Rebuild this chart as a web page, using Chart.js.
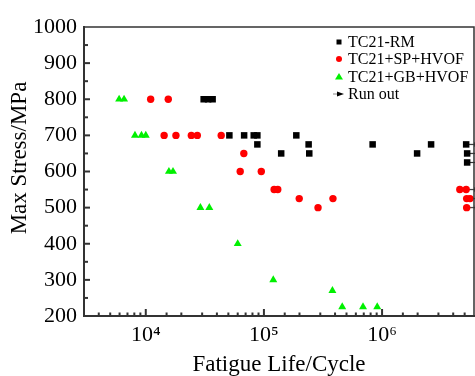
<!DOCTYPE html>
<html>
<head>
<meta charset="utf-8">
<script src="https://cdn.jsdelivr.net/npm/chart.js@4.4.1/dist/chart.umd.min.js"></script>
<style>
  html, body { margin: 0; padding: 0; background: #fff; }
</style>
</head>
<body>
<canvas id="fatigueChart" width="475" height="376"></canvas>
<script>
// fatigue life (cycles) vs max stress (MPa)
const rmLife = [30900, 33700, 36800, 51000, 68000, 82000, 88000, 188000, 88000, 239000, 832000, 2600000, 5150000, 140000, 242000, 1980000, 5250000, 5250000];
const rmStress = [800, 800, 800, 700, 700, 700, 700, 700, 675, 675, 675, 675, 675, 650, 650, 650, 650, 625];

const spLife = [11000, 15500, 14300, 18000, 24300, 27300, 43500, 67600, 63000, 95000, 122000, 131000, 199000, 384000, 287000, 4550000, 5150000, 5200000, 5550000, 5200000];
const spStress = [800, 800, 700, 700, 700, 700, 700, 650, 600, 600, 550, 550, 525, 525, 500, 550, 550, 525, 525, 500];

const gbLife = [5950, 6550, 8100, 9200, 10000, 15700, 17000, 29000, 34500, 60000, 120000, 380000, 460000, 690000, 910000];
const gbStress = [800, 800, 700, 700, 700, 600, 600, 500, 500, 400, 300, 270, 225, 225, 225];

// specimens that did not fail
const runOutLife = [5150000, 5250000, 5250000, 5150000, 5550000, 5200000];
const runOutStress = [675, 650, 625, 550, 525, 500];

const seriesNames = ['TC21-RM', 'TC21+SP+HVOF', 'TC21+GB+HVOF', 'Run out'];
const yTicks = [200, 300, 400, 500, 600, 700, 800, 900, 1000];

const axisColor = '#333333';
const serif = "'Liberation Serif', 'Times New Roman', serif";
const sup = { '4': '\u2074', '5': '\u2075', '6': '\u2076' };

function toPoints(xs, ys) {
    return xs.map((v, i) => ({ x: v, y: ys[i] }));
}

function isPow10(v) {
    const l = Math.log10(v);
    return Math.abs(l - Math.round(l)) < 1e-9;
}

// arrow marker, drawn to the right of the point
function makeArrow() {
    const c = document.createElement('canvas');
    c.width = 26;
    c.height = 7;
    const g = c.getContext('2d');
    g.strokeStyle = axisColor;
    g.fillStyle = axisColor;
    g.lineWidth = 1.2;
    g.beginPath();
    g.moveTo(15, 3.5);
    g.lineTo(22, 3.5);
    g.stroke();
    g.beginPath();
    g.moveTo(21, 1);
    g.lineTo(26, 3.5);
    g.lineTo(21, 6);
    g.fill();
    return c;
}

const frameAndTicks = {
    id: 'frameAndTicks',
    afterDraw(chart) {
        const { ctx, chartArea: a, scales: { x, y } } = chart;
        ctx.save();
        ctx.strokeStyle = axisColor;
        ctx.lineWidth = 1.5;
        ctx.beginPath();
        ctx.moveTo(a.left, a.top);
        ctx.lineTo(a.right, a.top);
        ctx.lineTo(a.right, a.bottom);
        ctx.stroke();

        // inward ticks
        ctx.lineWidth = 2;
        x.ticks.forEach(t => {
            const px = x.getPixelForValue(t.value);
            if (px < a.left + 3 || px > a.right - 3) return;
            ctx.beginPath();
            ctx.moveTo(px, a.bottom);
            ctx.lineTo(px, a.bottom - (isPow10(t.value) ? 7 : 3.5));
            ctx.stroke();
        });
        for (let v = 250; v < 1000; v += 50) {
            const py = y.getPixelForValue(v);
            ctx.beginPath();
            ctx.moveTo(a.left, py);
            ctx.lineTo(a.left + (v % 100 === 0 ? 6 : 4), py);
            ctx.stroke();
        }

        // y title
        ctx.fillStyle = '#000';
        ctx.font = '23px ' + serif;
        ctx.textAlign = 'center';
        ctx.textBaseline = 'middle';
        ctx.translate(20, 158);
        ctx.rotate(-Math.PI / 2);
        ctx.fillText('Max Stress/MPa', 0, 0);
        ctx.restore();

        // legend
        ctx.save();
        ctx.font = '16px ' + serif;
        ctx.textAlign = 'left';
        ctx.textBaseline = 'middle';
        const mx = 339, tx = 348, rows = [42, 59, 76.5, 94];
        const colors = ['#000000', '#ff0000', '#00f000'];
        rows.forEach((ry, i) => {
            ctx.fillStyle = colors[i] || '#000';
            ctx.strokeStyle = '#888';
            ctx.beginPath();
            if (i === 0) {
                ctx.rect(mx - 2.5, ry - 2.5, 5, 5);
                ctx.fill();
            } else if (i === 1) {
                ctx.arc(mx, ry, 3, 0, Math.PI * 2);
                ctx.fill();
            } else if (i === 2) {
                ctx.moveTo(mx, ry - 3.5);
                ctx.lineTo(mx + 4, ry + 3);
                ctx.lineTo(mx - 4, ry + 3);
                ctx.closePath();
                ctx.fill();
            } else {
                ctx.lineWidth = 1;
                ctx.moveTo(mx - 6, ry);
                ctx.lineTo(mx - 1, ry);
                ctx.stroke();
                ctx.beginPath();
                ctx.moveTo(mx - 2, ry - 2.5);
                ctx.lineTo(mx + 5, ry);
                ctx.lineTo(mx - 2, ry + 2.5);
                ctx.fill();
            }
            ctx.fillStyle = '#000';
            ctx.fillText(seriesNames[i], tx, ry + 1);
        });
        ctx.restore();
    }
};

const ctx = document.getElementById('fatigueChart').getContext('2d');
new Chart(ctx, {
    type: 'scatter',
    data: {
        datasets: [{
            label: seriesNames[0],
            data: toPoints(rmLife, rmStress),
            pointStyle: 'rect',
            pointRadius: 4.6,
            backgroundColor: '#000000',
            borderWidth: 0
        }, {
            label: seriesNames[1],
            data: toPoints(spLife, spStress),
            pointStyle: 'circle',
            pointRadius: 3.7,
            backgroundColor: '#ff0000',
            borderWidth: 0
        }, {
            label: seriesNames[2],
            data: toPoints(gbLife, gbStress),
            pointStyle: 'triangle',
            pointRadius: 4.6,
            backgroundColor: '#00f000',
            borderWidth: 0
        }, {
            label: seriesNames[3],
            data: toPoints(runOutLife, runOutStress),
            pointStyle: makeArrow(),
            clip: false
        }]
    },
    options: {
        responsive: false,
        animation: false,
        events: [],
        layout: { autoPadding: false, padding: { top: 27, right: 1, left: 0, bottom: 0 } },
        plugins: {
            legend: { display: false },
            tooltip: { enabled: false }
        },
        scales: {
            x: {
                type: 'logarithmic',
                min: 3000,
                max: 6000000,
                afterFit: s => { s.height = 60; s.paddingLeft = 0; s.paddingRight = 0; },
                grid: { display: false, drawTicks: false },
                border: { color: axisColor, width: 2 },
                ticks: {
                    autoSkip: false,
                    maxRotation: 0,
                    padding: 6,
                    color: '#000',
                    font: { family: serif, size: 22 },
                    callback: v => isPow10(v) ? '10' + sup[String(Math.round(Math.log10(v)))] : ''
                },
                title: {
                    display: true,
                    text: 'Fatigue Life/Cycle',
                    color: '#000',
                    font: { family: serif, size: 23, lineHeight: 1 },
                    padding: { top: 0, bottom: 0 }
                }
            },
            y: {
                min: 200,
                max: 1000,
                afterFit: s => { s.width = 84; s.paddingTop = 0; s.paddingBottom = 0; },
                afterBuildTicks: s => { s.ticks = yTicks.map(v => ({ value: v })); },
                grid: { display: false, drawTicks: false },
                border: { color: axisColor, width: 2 },
                ticks: {
                    padding: 7,
                    color: '#000',
                    font: { family: serif, size: 22 },
                    callback: v => String(v)
                }
            }
        }
    },
    plugins: [frameAndTicks]
});
</script>
</body>
</html>
